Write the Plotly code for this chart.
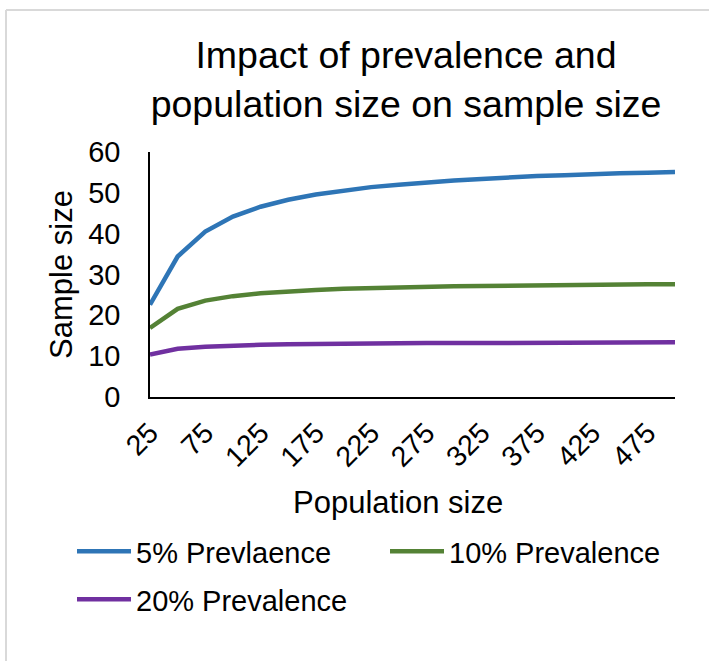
import plotly.graph_objects as go

population = ["25", "50", "75", "100", "125", "150", "175", "200", "225", "250",
              "275", "300", "325", "350", "375", "400", "425", "450", "475", "500"]
tick_labels = ["25", "75", "125", "175", "225", "275", "325", "375", "425", "475"]

prev_5 = [22.6, 34.4, 40.5, 44.2, 46.6, 48.3, 49.6, 50.6, 51.4, 52.0,
          52.6, 53.0, 53.4, 53.8, 54.1, 54.3, 54.6, 54.8, 54.9, 55.1]
prev_10 = [16.9, 21.6, 23.6, 24.7, 25.4, 25.9, 26.2, 26.5, 26.7, 26.9,
           27.0, 27.1, 27.2, 27.3, 27.4, 27.5, 27.5, 27.6, 27.6, 27.6]
prev_20 = [10.4, 11.8, 12.3, 12.6, 12.8, 12.9, 13.0, 13.0, 13.1, 13.1,
           13.2, 13.2, 13.2, 13.3, 13.3, 13.3, 13.3, 13.3, 13.3, 13.4]

series_names = ["5% Prevlaence", "10% Prevalence", "20% Prevalence"]
series_colors = ["#2E75B6", "#548235", "#7030A0"]
series_legends = ["legend", "legend", "legend2"]

FONT = "Liberation Sans, Arial, sans-serif"
W, H = 709, 661
L, R, T, B = 150, 34, 152, 264

fig = go.Figure()
for name, vals, col, lg in zip(series_names, [prev_5, prev_10, prev_20],
                               series_colors, series_legends):
    fig.add_trace(go.Scatter(x=population, y=vals, mode="lines", name=name,
                             legend=lg, line=dict(color=col, width=4.5)))

pw = W - L - R
ph = H - T - B
def px2paper_x(px):
    return (px - L) / pw
def px2paper_y(py):
    return (H - B - py) / ph

legend_common = dict(font=dict(size=29), itemwidth=54, bgcolor="rgba(0,0,0,0)",
                     xanchor="left", yanchor="top")

fig.update_layout(
    width=W, height=H,
    margin=dict(l=L, r=R, t=T, b=B, autoexpand=False),
    paper_bgcolor="white", plot_bgcolor="white",
    font=dict(family=FONT, color="black"),
    title=dict(text="Impact of prevalence and<br>population size on sample size",
               font=dict(size=37.5, family=FONT, color="black"),
               x=406 / W, xanchor="center", xref="container",
               y=1 - 68 / H, yanchor="top", yref="container"),
    xaxis=dict(type="category", categoryorder="array", categoryarray=population,
               tickvals=tick_labels, ticktext=tick_labels, tickangle=-45,
               tickfont=dict(size=28.5), ticks="", showgrid=False,
               showline=True, linecolor="black", linewidth=1.5,
               ticklabelstandoff=6),
    yaxis=dict(range=[0, 60], dtick=10, tickfont=dict(size=29), ticks="",
               showgrid=False, zeroline=False,
               showline=True, linecolor="black", linewidth=1.5,
               ticklabelstandoff=22,
               title=dict(text="Sample size", font=dict(size=31), standoff=6)),
    legend=dict(orientation="h", x=px2paper_x(72), y=px2paper_y(526),
                entrywidth=244, entrywidthmode="pixels", **legend_common),
    legend2=dict(orientation="h", x=px2paper_x(72), y=px2paper_y(574),
                 **legend_common),
    annotations=[
        dict(text="Population size", xref="paper", yref="paper",
             x=px2paper_x(398), y=px2paper_y(502), xanchor="center", yanchor="middle",
             showarrow=False, font=dict(size=31, family=FONT, color="black")),
    ],
    showlegend=True,
    shapes=[
        dict(type="line", xref="paper", yref="paper",
             x0=px2paper_x(6), x1=px2paper_x(6), y0=px2paper_y(10), y1=px2paper_y(700),
             line=dict(color="#d9d9d9", width=2)),
        dict(type="line", xref="paper", yref="paper",
             x0=px2paper_x(6), x1=px2paper_x(720), y0=px2paper_y(10), y1=px2paper_y(10),
             line=dict(color="#d9d9d9", width=2)),
    ],
)

fig.write_html("out.html", config={"displayModeBar": False},
               post_script="document.body.style.margin='0px';")
